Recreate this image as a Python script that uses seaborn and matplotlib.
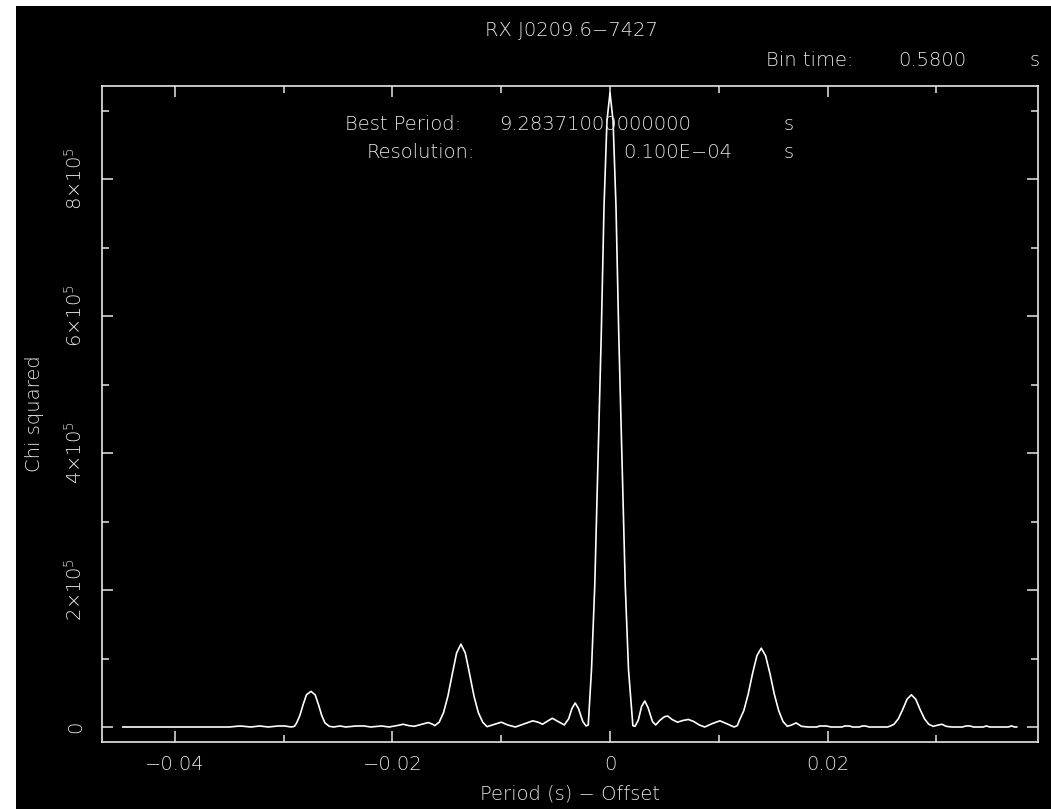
import matplotlib
matplotlib.use("Agg")
import matplotlib.pyplot as plt
import seaborn as sns
import pandas as pd
from matplotlib.patches import Rectangle
from matplotlib.ticker import MultipleLocator, FixedLocator

period_offset = [
    -0.0448, -0.0350, -0.0340, -0.0330, -0.0322, -0.0314, -0.0305, -0.0299, -0.0293,
    -0.0290, -0.0288, -0.0285, -0.0282, -0.0279, -0.02748, -0.0271, -0.0268, -0.0265,
    -0.0262, -0.0258, -0.0254, -0.0248, -0.0243, -0.0233, -0.0226, -0.0220, -0.0210,
    -0.0203, -0.0196, -0.0190, -0.0185, -0.0180, -0.0173, -0.0167, -0.0163, -0.0161,
    -0.0157, -0.0153, -0.0149, -0.0145, -0.0141, -0.0137, -0.0133, -0.0129, -0.0125,
    -0.0121, -0.0117, -0.0113, -0.0106, -0.0100, -0.0094, -0.0087, -0.0080, -0.0071,
    -0.0066, -0.0062, -0.0057, -0.0053, -0.0047, -0.0042, -0.0038, -0.0035, -0.0032,
    -0.0029, -0.0025, -0.0022, -0.0020, -0.0017, -0.0014, -0.0011, -0.0008, -0.00055,
    -0.00028, 0.0, 0.00028, 0.00055, 0.0008, 0.0011, 0.0014, 0.0017, 0.0021,
    0.0023, 0.0026, 0.0029, 0.0032, 0.0035, 0.0039, 0.0042, 0.0046, 0.0050,
    0.0053, 0.0057, 0.0062, 0.0067, 0.0072, 0.0077, 0.0082, 0.0087, 0.0094,
    0.0101, 0.0107, 0.0114, 0.0117, 0.0119, 0.0123, 0.0127, 0.0131, 0.0135,
    0.0139, 0.0143, 0.0147, 0.0151, 0.0155, 0.0159, 0.0163, 0.0167, 0.0171,
    0.0176, 0.0182, 0.0190, 0.0193, 0.0199, 0.0203, 0.0213, 0.0216, 0.0220,
    0.0223, 0.0229, 0.0232, 0.0235, 0.0238, 0.0255, 0.0257, 0.0261, 0.0265,
    0.0269, 0.0273, 0.0277, 0.0281, 0.0285, 0.0289, 0.0293, 0.0297, 0.0302,
    0.0305, 0.0309, 0.0314, 0.0324, 0.0327, 0.0331, 0.0334, 0.0343, 0.0346,
    0.0349, 0.0366, 0.0369, 0.0372, 0.0374,
]
chi_sq_k = [
    0, 0, 1.5, 0, 1.5, 0, 1.5, 1.5, 0,
    1, 6, 17, 33, 47, 52, 47, 33, 17,
    6, 1, 0, 1.5, 0, 1.5, 1.5, 0, 1.5,
    0, 2, 4, 2, 1, 4, 6.5, 4, 2,
    7, 21, 45, 77, 108, 121, 108, 77, 45,
    21, 7, 0.5, 4, 7, 3, 0, 4, 9,
    7, 4, 9, 12.7, 7.5, 3, 12, 27, 35,
    27, 8, 1.5, 3, 84, 207, 391, 576, 760,
    885, 926, 885, 760, 576, 391, 207, 84, 2,
    1, 10, 30, 38, 28, 8, 3, 10, 15,
    16, 11, 7, 9.5, 11, 8, 3, 0, 5,
    9, 5, 0, 2, 10, 24, 48, 78, 104,
    115, 104, 78, 48, 24, 8, 1, 3, 6,
    1, 0, 0, 1.5, 1.5, 0, 0, 1.5, 1.5,
    0, 0, 1.5, 1.5, 0, 0, 1, 4, 12,
    25.5, 40.5, 47, 40.5, 25.5, 12, 4, 1, 3,
    4, 1, 0, 0, 1.5, 1.5, 0, 0, 1.5,
    0, 0, 1.5, 0, 0,
]

x_ticks = [-0.04, -0.02, 0, 0.02]
x_tick_labels = ["\u22120.04", "\u22120.02", "0", "0.02"]
y_ticks = [0, 2e5, 4e5, 6e5, 8e5]
y_tick_labels = ["0", r"$2{\times}10^5$", r"$4{\times}10^5$", r"$6{\times}10^5$", r"$8{\times}10^5$"]

df = pd.DataFrame({"period": period_offset, "chi": [v * 1000 for v in chi_sq_k]})

sns.set_style("ticks")
fg = "#e6e6e6"
plt.rcParams["font.family"] = ["DejaVu Sans"]
plt.rcParams["font.weight"] = "light"
plt.rcParams["axes.labelweight"] = "light"
plt.rcParams["mathtext.fontset"] = "dejavusans"

fig = plt.figure(figsize=(10.51, 8.09), dpi=100)
fig.patch.set_facecolor("white")
# fondo negro del grafico (con el borde blanco de la imagen original)
fig.patches.append(Rectangle((16 / 1051, 0.0), 1.0, 1 - 6 / 809, transform=fig.transFigure,
                             facecolor="black", edgecolor="none", zorder=-10))

ax = fig.add_axes([102 / 1051, 1 - 742 / 809, (1037.5 - 102) / 1051, (742 - 86) / 809])
ax.set_facecolor("black")

sns.lineplot(data=df, x="period", y="chi", ax=ax, color="white", linewidth=1.2, estimator=None)

ax.set_xlim(-0.04669, 0.03929)
ax.set_ylim(-21900, 935800)

for s in ax.spines.values():
    s.set_color(fg)
    s.set_linewidth(1.2)

ax.xaxis.set_major_locator(FixedLocator(x_ticks))
ax.xaxis.set_minor_locator(MultipleLocator(0.01))
ax.yaxis.set_major_locator(FixedLocator(y_ticks))
ax.yaxis.set_minor_locator(MultipleLocator(1e5))
ax.set_xticklabels(x_tick_labels)
ax.set_yticklabels(y_tick_labels, rotation=90, va="center")

ax.tick_params(which="both", direction="in", colors=fg, top=True, right=True, width=1.1,
               labelsize=14)
ax.tick_params(which="major", length=8)
ax.tick_params(which="minor", length=5)
ax.tick_params(axis="x", pad=9)
ax.tick_params(axis="y", pad=12)

ax.set_xlabel("Period (s) \u2212 Offset", color=fg, fontsize=14, labelpad=8, fontweight="light")
ax.set_ylabel("Chi squared", color=fg, fontsize=14, labelpad=14, fontweight="light")

def ftext(px, py, s, ha="left"):
    fig.text(px / 1051, 1 - py / 809, s, color=fg, fontsize=14, ha=ha, va="center",
             fontweight="light")

ftext(571, 31, "RX J0209.6\u22127427", ha="center")
ftext(766, 61, "Bin time:")
ftext(898, 61, "0.5800")
ftext(1030, 61, "s")
ftext(345, 124, "Best Period:")
ftext(499, 124, "9.28371000000000")
ftext(784, 124, "s")
ftext(367, 153, "Resolution:")
ftext(623, 153, "0.100E\u221204")
ftext(784, 153, "s")

fig.savefig("out.png", dpi=100, facecolor=fig.get_facecolor())
